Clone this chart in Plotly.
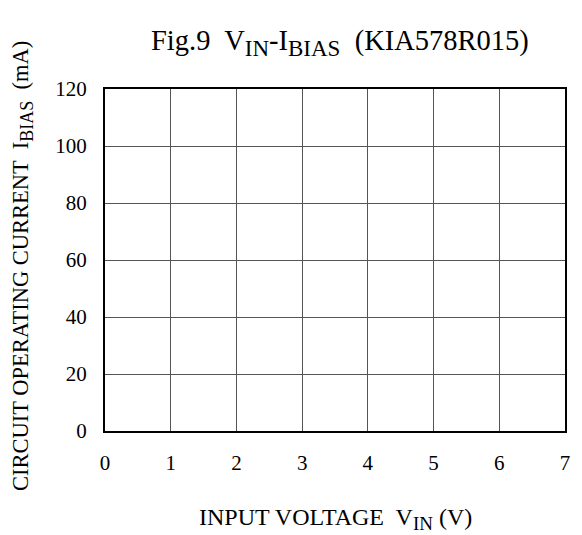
import plotly.graph_objects as go

x_ticks = [0, 1, 2, 3, 4, 5, 6, 7]
y_ticks = [0, 20, 40, 60, 80, 100, 120]
x_values = []
y_values = []


def sub(text, px):
    return f"<sub><span style='font-size:{px}px'>{text}</span></sub>"


title_text = "Fig.9  V" + sub("IN", 23) + "-I" + sub("BIAS", 23) + "  (KIA578R015)"
x_title = "INPUT VOLTAGE  V" + sub("IN", 19) + " (V)"
y_title = "CIRCUIT OPERATING CURRENT  I" + sub("BIAS", 18) + "  (mA)"

font_family = "Liberation Serif, Times New Roman, serif"

fig = go.Figure()
fig.add_trace(go.Scatter(x=x_values, y=y_values, mode="lines",
                         line=dict(color="black"), showlegend=False))

axis_common = dict(
    showline=True, linecolor="black", linewidth=2, mirror=True,
    showgrid=True, gridcolor="#555555", gridwidth=1,
    zeroline=False, ticks="outside", tickcolor="rgba(0,0,0,0)",
    tickfont=dict(family=font_family, size=21, color="black"),
)

fig.update_xaxes(range=[0, 7], tickvals=x_ticks, ticklen=12, **axis_common)
fig.update_yaxes(range=[0, 120], tickvals=y_ticks, ticklen=12, **axis_common)

fig.update_layout(
    width=582, height=535,
    margin=dict(l=105, r=15, t=89, b=104),
    paper_bgcolor="white", plot_bgcolor="white",
    font=dict(family=font_family, color="black"),
    annotations=[
        dict(text=title_text, xref="paper", yref="paper", x=0.51, y=1,
             yshift=46, xanchor="center", yanchor="middle", showarrow=False,
             font=dict(size=28.5, family=font_family)),
        dict(text=x_title, xref="paper", yref="paper", x=0.5, y=0,
             yshift=-88, xanchor="center", yanchor="middle", showarrow=False,
             font=dict(size=24, family=font_family)),
        dict(text=y_title, xref="paper", yref="paper", x=0, y=0.5,
             xshift=-83, yshift=-6, xanchor="center", yanchor="middle", showarrow=False,
             textangle=-90, font=dict(size=22.5, family=font_family)),
    ],
)

fig.write_html("out.html", config={"displayModeBar": False},
               post_script="document.body.style.margin='0';")
